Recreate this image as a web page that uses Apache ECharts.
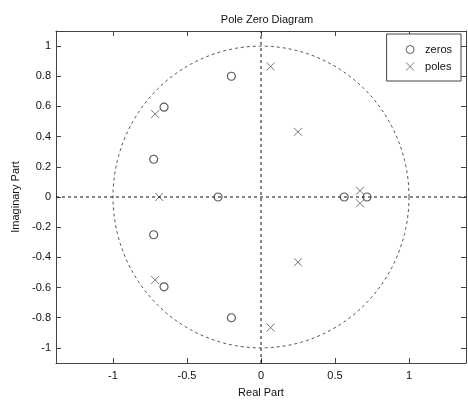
<!DOCTYPE html>
<html>
<head>
<meta charset="utf-8">
<script src="https://cdn.jsdelivr.net/npm/echarts@6/dist/echarts.min.js"></script>
<style>
  html, body { margin: 0; padding: 0; background: #fff; }
  #chart { width: 468px; height: 403px; }
</style>
</head>
<body>
<div id="chart"></div>
<script>
// values
const zeros = [
  [-0.2, 0.8], [-0.2, -0.8],
  [-0.655, 0.595], [-0.655, -0.595],
  [-0.725, 0.25], [-0.725, -0.25],
  [-0.29, 0], [0.562, 0], [0.716, 0]
]
const poles = [
  [0.065, 0.865], [0.065, -0.865],
  [0.25, 0.432], [0.25, -0.432],
  [-0.715, 0.55], [-0.715, -0.55],
  [-0.688, 0],
  [0.669, 0.042], [0.669, -0.042]
]
const xTicks = [-1, -0.5, 0, 0.5, 1]
const yTicks = [-1, -0.8, -0.6, -0.4, -0.2, 0, 0.2, 0.4, 0.6, 0.8, 1]
const xRange = [-1.385, 1.385]
const yRange = [-1.1, 1.1]

// unit circle outline
const unitCircle = []
for (let i = 0; i <= 180; i++) {
  const t = i / 180 * 2 * Math.PI
  unitCircle.push([Math.cos(t), Math.sin(t)])
}

const font = 'Liberation Sans, Arial, sans-serif'
const crossIcon = 'path://M0,0L10,10M10,0L0,10'

const tickAxis = (pos, min, max, ticks, show) => ({
  type: 'value',
  position: pos,
  min: min,
  max: max,
  splitLine: { show: false },
  axisLine: { show: true, onZero: false, lineStyle: { color: '#444', width: 1 } },
  axisTick: { show: true, inside: true, length: 5, customValues: ticks, lineStyle: { color: '#444' } },
  axisLabel: { show: show, customValues: ticks, color: '#111', fontFamily: font, fontSize: 11 }
})

const xMain = tickAxis('bottom', xRange[0], xRange[1], xTicks, true)
xMain.name = 'Real Part'
xMain.nameLocation = 'middle'
xMain.nameGap = 24
xMain.nameTextStyle = { color: '#111', fontFamily: font, fontSize: 11 }
xMain.axisLabel.margin = 7

const yMain = tickAxis('left', yRange[0], yRange[1], yTicks, true)
yMain.name = 'Imaginary Part'
yMain.nameLocation = 'middle'
yMain.nameGap = 32
yMain.nameTextStyle = { color: '#111', fontFamily: font, fontSize: 11 }
yMain.axisLabel.margin = 5

const chart = echarts.init(document.getElementById('chart'))
chart.setOption({
  animation: false,
  backgroundColor: '#fff',
  title: {
    text: 'Pole Zero Diagram',
    left: 262, top: 9, textAlign: 'center',
    textStyle: { fontFamily: font, fontSize: 11, fontWeight: 'normal', color: '#111' }
  },
  legend: {
    orient: 'vertical',
    right: 7, top: 34,
    padding: [9, 9, 8, 17],
    itemGap: 4,
    itemWidth: 8, itemHeight: 8,
    borderColor: '#444', borderWidth: 1,
    backgroundColor: '#fff',
    itemStyle: { borderWidth: 1 },
    textStyle: { fontFamily: font, fontSize: 11, color: '#111', padding: [0, 0, 0, 6] },
    data: [
      { name: 'zeros', icon: 'circle' },
      { name: 'poles', icon: crossIcon }
    ]
  },
  grid: { left: 56, right: 2, top: 31, bottom: 36 },
  xAxis: [xMain, tickAxis('top', xRange[0], xRange[1], xTicks, false)],
  yAxis: [yMain, tickAxis('right', yRange[0], yRange[1], yTicks, false)],
  series: [
    {
      name: 'circle', type: 'line', data: unitCircle,
      showSymbol: false, silent: true,
      lineStyle: { color: '#555', width: 1, type: [3, 3] }
    },
    {
      name: 'axes', type: 'line', data: [[xRange[0], 0], [xRange[1], 0]],
      showSymbol: false, silent: true,
      lineStyle: { color: '#111', width: 1, type: [3, 3] }
    },
    {
      name: 'axes2', type: 'line', data: [[0, yRange[0]], [0, yRange[1]]],
      showSymbol: false, silent: true,
      lineStyle: { color: '#111', width: 1, type: [3, 3] }
    },
    {
      name: 'zeros', type: 'scatter', data: zeros,
      symbol: 'circle', symbolSize: 8,
      itemStyle: { color: 'none', borderColor: '#333', borderWidth: 1.2 }
    },
    {
      name: 'poles', type: 'scatter', data: poles,
      symbol: crossIcon, symbolSize: 8,
      itemStyle: { color: 'none', borderColor: '#555', borderWidth: 1 }
    }
  ]
})
</script>
</body>
</html>
